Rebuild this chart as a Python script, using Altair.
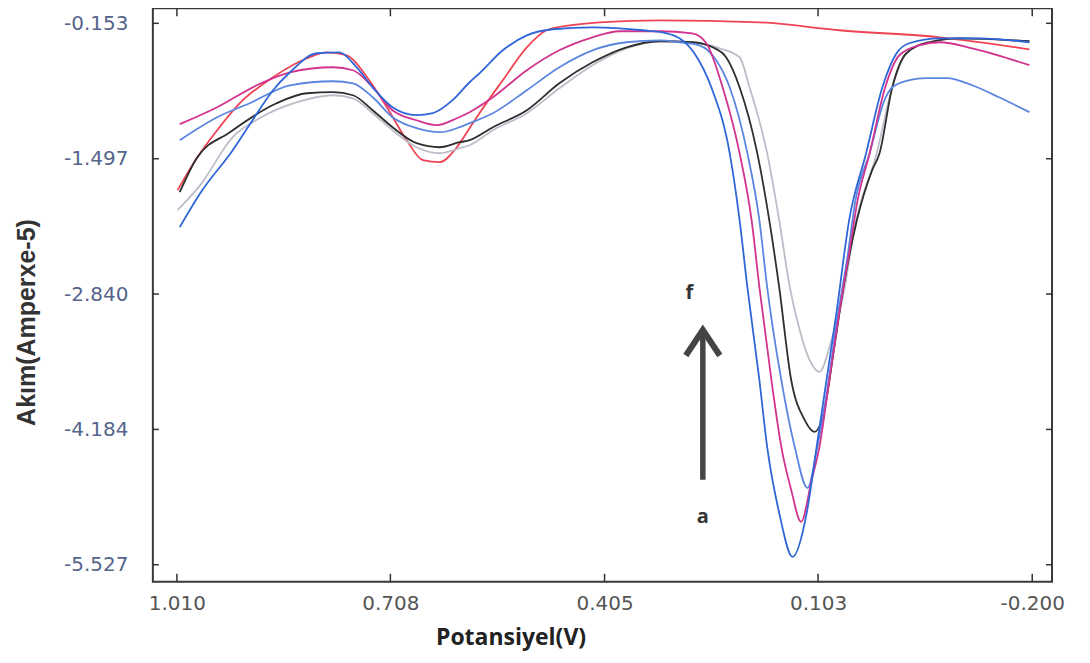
import altair as alt
import pandas as pd

# ---- data (potential in V, current in Amper e-5) ----
a_v = [1.006, 0.977, 0.931, 0.903, 0.874, 0.850, 0.812, 0.780, 0.756, 0.733, 0.705, 0.671, 0.648, 0.620, 0.596,
       0.582, 0.549, 0.515, 0.478, 0.422, 0.351, 0.317, 0.299, 0.278, 0.254, 0.228, 0.214, 0.203, 0.186, 0.175,
       0.158, 0.139, 0.119, 0.105, 0.091, 0.077, 0.059, 0.035, 0.012, -0.008, -0.026, -0.069, -0.125, -0.196]
a_i = [-2.176, -1.839, -1.412, -1.115, -0.817, -0.639, -0.450, -0.441, -0.589, -0.788, -0.986, -1.065, -1.045, -0.916, -0.738,
       -0.649, -0.421, -0.272, -0.212, -0.193, -0.222, -0.252, -0.302, -0.450, -0.788, -1.442, -2.106, -2.771, -3.693, -4.357,
       -5.011, -5.448, -5.011, -4.357, -3.693, -3.028, -2.106, -1.442, -0.788, -0.450, -0.351, -0.302, -0.302, -0.341]

b_v = [1.006, 0.953, 0.897, 0.850, 0.789, 0.761, 0.733, 0.705, 0.671, 0.642, 0.614, 0.596, 0.563, 0.515, 0.469,
       0.422, 0.384, 0.327, 0.281, 0.261, 0.238, 0.214, 0.197, 0.186, 0.169, 0.155, 0.141, 0.127, 0.112, 0.101,
       0.087, 0.073, 0.059, 0.047, 0.030, 0.008, -0.012, -0.040, -0.069, -0.115, -0.196]
b_i = [-1.154, -0.986, -0.768, -0.639, -0.589, -0.619, -0.788, -1.016, -1.115, -1.164, -1.095, -1.035, -0.887, -0.619, -0.421,
       -0.292, -0.232, -0.232, -0.252, -0.351, -0.788, -1.442, -2.106, -2.771, -3.693, -4.357, -4.784, -5.101, -4.684, -4.357,
       -3.693, -3.028, -2.433, -1.908, -1.442, -0.788, -0.470, -0.371, -0.341, -0.401, -0.569]

c_v = [1.006, 0.953, 0.907, 0.850, 0.789, 0.761, 0.733, 0.705, 0.671, 0.638, 0.610, 0.596, 0.563, 0.515, 0.469,
       0.422, 0.374, 0.327, 0.299, 0.271, 0.247, 0.228, 0.203, 0.186, 0.175, 0.155, 0.136, 0.118, 0.104, 0.090,
       0.076, 0.061, 0.050, 0.030, 0.009, -0.002, -0.026, -0.050, -0.079, -0.115, -0.153, -0.196]
c_i = [-1.313, -1.085, -0.946, -0.768, -0.728, -0.748, -0.887, -1.085, -1.194, -1.234, -1.184, -1.144, -1.045, -0.817, -0.589,
       -0.421, -0.341, -0.322, -0.341, -0.371, -0.520, -0.788, -1.442, -2.106, -2.771, -3.693, -4.357, -4.764, -4.357, -3.792,
       -3.098, -2.453, -1.908, -1.442, -0.916, -0.788, -0.718, -0.698, -0.698, -0.768, -0.887, -1.035]

d_v = [1.006, 0.982, 0.935, 0.869, 0.826, 0.789, 0.761, 0.733, 0.705, 0.671, 0.638, 0.610, 0.596, 0.563, 0.515,
       0.469, 0.422, 0.374, 0.327, 0.281, 0.252, 0.233, 0.214, 0.189, 0.172, 0.158, 0.141, 0.122, 0.108, 0.094,
       0.080, 0.066, 0.048, 0.027, 0.016, -0.002, -0.022, -0.054, -0.097, -0.196]
d_i = [-1.829, -1.492, -1.234, -0.946, -0.847, -0.837, -0.867, -1.016, -1.184, -1.343, -1.383, -1.333, -1.313, -1.184, -1.016,
       -0.748, -0.540, -0.391, -0.331, -0.341, -0.391, -0.490, -0.788, -1.442, -2.106, -2.771, -3.693, -4.089, -4.208, -3.990,
       -3.366, -2.731, -2.106, -1.620, -1.442, -0.788, -0.450, -0.341, -0.302, -0.331]

e_v = [1.009, 0.977, 0.931, 0.893, 0.840, 0.789, 0.761, 0.733, 0.705, 0.671, 0.638, 0.610, 0.596, 0.563, 0.515,
       0.469, 0.422, 0.374, 0.327, 0.281, 0.242, 0.214, 0.200, 0.175, 0.158, 0.143, 0.129, 0.115, 0.101, 0.084,
       0.066, 0.052, 0.020, -0.002, -0.022, -0.054, -0.097, -0.196]
e_i = [-2.007, -1.759, -1.283, -1.095, -0.936, -0.867, -0.897, -1.045, -1.214, -1.383, -1.442, -1.392, -1.363, -1.214, -1.045,
       -0.798, -0.569, -0.401, -0.331, -0.341, -0.401, -0.490, -0.788, -1.442, -2.106, -2.771, -3.197, -3.494, -3.613, -3.296,
       -2.800, -2.205, -1.442, -0.788, -0.450, -0.341, -0.302, -0.331]

f_v = [1.009, 0.982, 0.953, 0.921, 0.874, 0.826, 0.798, 0.770, 0.741, 0.713, 0.685, 0.662, 0.638, 0.614, 0.596,
       0.582, 0.549, 0.515, 0.487, 0.454, 0.412, 0.327, 0.186, 0.073, -0.069, -0.196]
f_i = [-1.809, -1.492, -1.214, -0.946, -0.688, -0.500, -0.441, -0.470, -0.688, -0.986, -1.313, -1.511, -1.531, -1.383, -1.194,
       -1.045, -0.718, -0.391, -0.222, -0.173, -0.143, -0.123, -0.143, -0.222, -0.292, -0.411]

curve_names = ["f", "e", "d", "c", "b", "a"]
curve_colors = ["#ee4352", "#bdbdca", "#2e2e2e", "#5b86e0", "#d1338f", "#2f66d8"]

x_ticks = [1.010, 0.708, 0.405, 0.103, -0.200]
y_ticks = [-0.153, -1.497, -2.840, -4.184, -5.527]

label_text = ["f", "a"]
label_v = [0.285, 0.266]
label_i = [-2.830, -5.051]

arrow_v = [0.266]
arrow_i_start = [-4.684]
arrow_i_end = [-3.215]
arrow_head_i = [-3.197]

# ---- build tables ----
series = {"a": (a_v, a_i), "b": (b_v, b_i), "c": (c_v, c_i),
          "d": (d_v, d_i), "e": (e_v, e_i), "f": (f_v, f_i)}
rows = []
for name in curve_names:
    vs, cs = series[name]
    for k, (v, c) in enumerate(zip(vs, cs)):
        rows.append({"curve": name, "v": v, "i": c, "k": k})
df = pd.DataFrame(rows)

xt = pd.DataFrame({"v": x_ticks})
yt = pd.DataFrame({"i": y_ticks})
lab = pd.DataFrame({"t": label_text, "v": label_v, "i": label_i})
arr = pd.DataFrame({"v": arrow_v, "i": arrow_i_start, "i2": arrow_i_end})
head = pd.DataFrame({"v": arrow_v, "i": arrow_head_i})

W, H = 900, 574
xscale = alt.Scale(domain=[1.044, -0.228], nice=False, zero=False)
yscale = alt.Scale(domain=[-5.696, -0.004], nice=False, zero=False)

hyphen_fmt = "datum.value < 0 ? '-' + format(-datum.value, '.3f') : format(datum.value, '.3f')"

xaxis = alt.Axis(values=x_ticks, labelExpr=hyphen_fmt, ticks=False, domain=False, grid=False,
                 labelFont="DejaVu Sans", labelFontSize=20, labelColor="#555555",
                 labelPadding=12, labelFlush=False, labelOverlap=False,
                 title="Potansiyel(V)", titleFont="Open Sans", titleFontSize=23,
                 titleFontWeight="bold", titleColor="#222222",
                 titleX=358, titleY=56, titleAlign="center", titleBaseline="middle")
yaxis = alt.Axis(values=y_ticks, labelExpr=hyphen_fmt, ticks=False, domain=False, grid=False,
                 labelFont="DejaVu Sans", labelFontSize=20, labelColor="#54648a",
                 labelPadding=25, labelFlush=False, labelOverlap=False,
                 title="Akım(Amperxe-5)", titleFont="Liberation Sans", titleFontSize=25,
                 titleFontWeight="bold", titleColor="#333333",
                 titleX=-126, titleY=314, titleAlign="center", titleBaseline="middle", titleAngle=270)

X = alt.X("v:Q", scale=xscale, axis=xaxis)
Y = alt.Y("i:Q", scale=yscale, axis=yaxis)

lines = alt.Chart(df).mark_line(interpolate="monotone", strokeWidth=1.8, clip=True).encode(
    x=X, y=Y,
    color=alt.Color("curve:N", scale=alt.Scale(domain=curve_names, range=curve_colors), legend=None),
    order=alt.Order("k:Q"),
)

tick_style = dict(color="#333333", strokeWidth=1.5)
bottom_ticks = alt.Chart(xt).mark_rule(**tick_style).encode(x=X, y=alt.value(H), y2=alt.value(H - 8))
top_ticks = alt.Chart(xt).mark_rule(**tick_style).encode(x=X, y=alt.value(0), y2=alt.value(8))
left_ticks = alt.Chart(yt).mark_rule(**tick_style).encode(y=Y, x=alt.value(0), x2=alt.value(6))
right_ticks = alt.Chart(yt).mark_rule(**tick_style).encode(y=Y, x=alt.value(W), x2=alt.value(W - 6))

shaft = alt.Chart(arr).mark_rule(color="#444444", strokeWidth=5.5).encode(
    x=X, y=Y, y2=alt.Y2("i2:Q"))
arrow_head = alt.Chart(head).mark_point(
    shape="M-1,1.5L0,0L1,1.5", filled=False, size=1156, stroke="#444444", strokeWidth=6,
    strokeJoin="miter", opacity=1).encode(x=X, y=Y)

labels = alt.Chart(lab).mark_text(font="Open Sans", fontSize=20, fontWeight="bold",
                                  color="#333333", baseline="middle", align="center").encode(
    x=X, y=Y, text="t:N")

chart = alt.layer(
    lines, bottom_ticks, top_ticks, left_ticks, right_ticks, shaft, arrow_head, labels
).properties(
    width=W, height=H,
    autosize=alt.AutoSizeParams(type="none"),
    padding={"left": 145, "top": 0, "right": 30, "bottom": 75},
).configure(background="white").configure_view(stroke="#3a3a3a", strokeWidth=2)

chart.save("out.html", embed_options={"renderer": "svg", "actions": False})
